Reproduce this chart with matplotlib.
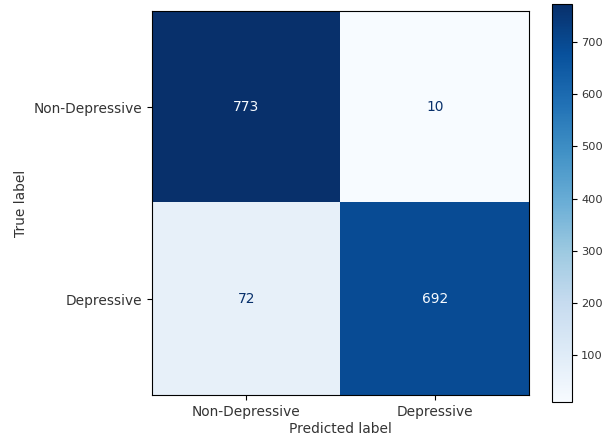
import numpy as np
import matplotlib.pyplot as plt

labels = ["Non-Depressive", "Depressive"]
cm = np.array([[773, 10],
               [72, 692]])

plt.rcParams['font.family'] = ['DejaVu Sans']
plt.rcParams['font.size'] = 9.9
plt.rcParams['text.color'] = '#333333'
plt.rcParams['axes.labelcolor'] = '#333333'
plt.rcParams['xtick.labelcolor'] = '#333333'
plt.rcParams['ytick.labelcolor'] = '#333333'

fig = plt.figure(figsize=(6.07, 4.40), dpi=100)
ax = fig.add_axes([152 / 607, 1 - 395 / 440, 377 / 607, 384 / 440])
cax = fig.add_axes([552 / 607, 1 - 402 / 440, 20 / 607, 398 / 440])

cmap = plt.cm.Blues
im = ax.imshow(cm, cmap=cmap, aspect='auto', interpolation='nearest')

# text colour flips against the cell shade, like sklearn's display
thresh = (cm.max() + cm.min()) / 2.0
for i in range(cm.shape[0]):
    for j in range(cm.shape[1]):
        color = cmap(0.0) if cm[i, j] > thresh else cmap(1.0)
        ax.text(j, i, str(cm[i, j]), ha='center', va='center', color=color)

ax.set_xticks(range(len(labels)))
ax.set_xticklabels(labels)
ax.set_yticks(range(len(labels)))
ax.set_yticklabels(labels)
ax.set_xlabel('Predicted label', labelpad=2)
ax.set_ylabel('True label')

cb = fig.colorbar(im, cax=cax)
cb.set_ticks([100, 200, 300, 400, 500, 600, 700])
cax.tick_params(labelsize=8.2, pad=3)

fig.savefig('out.png', dpi=100)
